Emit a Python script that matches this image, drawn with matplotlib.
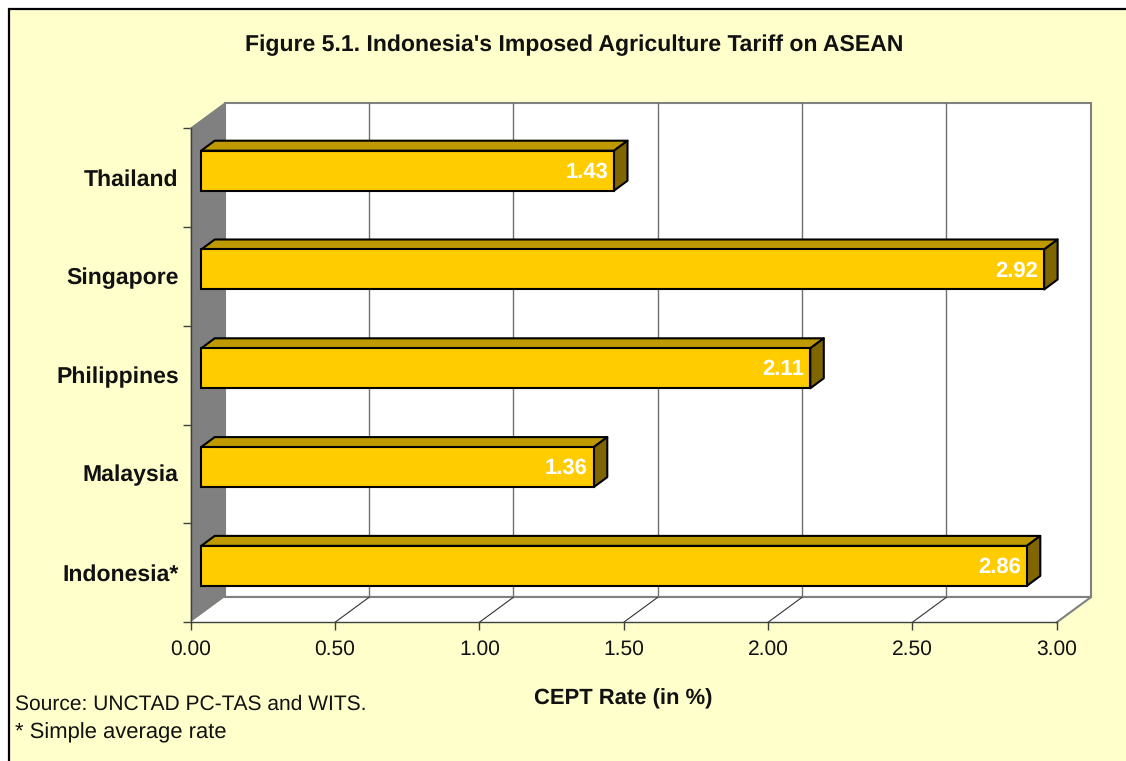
import matplotlib
matplotlib.use("Agg")
import matplotlib.pyplot as plt
from matplotlib.patches import Polygon, Rectangle

plt.rcParams['font.family'] = ['Liberation Sans', 'DejaVu Sans']
plt.rcParams['text.hinting'] = 'no_hinting'
plt.rcParams['text.hinting_factor'] = 1

# Data
countries = ['Indonesia*', 'Malaysia', 'Philippines', 'Singapore', 'Thailand']
rates = [2.86, 1.36, 2.11, 2.92, 1.43]
rate_labels = ['2.86', '1.36', '2.11', '2.92', '1.43']
x_ticks = [0.0, 0.5, 1.0, 1.5, 2.0, 2.5, 3.0]
x_tick_labels = ['0.00', '0.50', '1.00', '1.50', '2.00', '2.50', '3.00']

W, H = 1126, 761
fig = plt.figure(figsize=(W / 100, H / 100), dpi=100, facecolor='white')

# yellow outer panel, cut off by the right and bottom edge of the image
fig.add_artist(Rectangle((8.5 / W, -0.2), 1.2, 1.2 - 9 / H, transform=fig.transFigure,
                         facecolor='#FFFFCC', edgecolor='black', linewidth=1.6, zorder=-1))

# front plane of the 3D box, in pixels
left, right, top, bottom = 190.7, 1056.7, 128.3, 622.3
ax = fig.add_axes([left / W, 1 - bottom / H, (right - left) / W, (bottom - top) / H])
ax.set_xlim(0, 3)
ax.set_ylim(-0.5, 4.5)
ax.patch.set_visible(False)
for s in ax.spines.values():
    s.set_visible(False)

# pixel sizes turned into data units
px = 3 / (right - left)
py = 5 / (bottom - top)
depth_x, depth_y = 34 * px, 25 * py

# back wall
ax.add_patch(Rectangle((depth_x, -0.5 + depth_y), 3, 5, facecolor='white', edgecolor='#808080',
                       linewidth=1.5, clip_on=False, zorder=1))
# left wall
ax.add_patch(Polygon([(0, -0.5), (0, 4.5), (depth_x, 4.5 + depth_y), (depth_x, -0.5 + depth_y)],
                     facecolor='#808080', edgecolor='none', clip_on=False, zorder=2))
ax.plot([0, depth_x], [4.5, 4.5 + depth_y], color='#808080', lw=1, clip_on=False, zorder=2)
# floor
ax.add_patch(Polygon([(0, -0.5), (3, -0.5), (3 + depth_x, -0.5 + depth_y), (depth_x, -0.5 + depth_y)],
                     facecolor='white', edgecolor='none', clip_on=False, zorder=2))
ax.plot([3, 3 + depth_x], [-0.5, -0.5 + depth_y], color='#808080', lw=1.5, clip_on=False, zorder=3)
ax.plot([depth_x, 3 + depth_x], [-0.5 + depth_y, -0.5 + depth_y], color='#808080', lw=1.5,
        clip_on=False, zorder=3)

for t in x_ticks[1:-1]:
    ax.plot([t + depth_x, t + depth_x], [-0.5 + depth_y, 4.5 + depth_y], color='#707070', lw=1,
            clip_on=False, zorder=2.5)
    ax.plot([t, t + depth_x], [-0.5, -0.5 + depth_y], color='#333333', lw=0.8, clip_on=False, zorder=3)
ax.plot([0, 0], [-0.5, 4.5], color='#404040', lw=1, clip_on=False, zorder=3)
ax.plot([0, 3], [-0.5, -0.5], color='#404040', lw=1, clip_on=False, zorder=3)

# bars: front face sits part way into the box
shift_x, shift_y = 10.5 * px, 7 * py
bar_h = 40 * py
off_x, off_y = 13.5 * px, 10 * py
y_pos = list(range(len(countries)))

for y, rate, label in zip(y_pos, rates, rate_labels):
    x0, x1 = shift_x, rate + shift_x
    y0, y1 = y + shift_y - bar_h / 2, y + shift_y + bar_h / 2
    ax.add_patch(Polygon([(x0, y1), (x1, y1), (x1 + off_x, y1 + off_y), (x0 + off_x, y1 + off_y)],
                         facecolor='#BF9900', edgecolor='black', linewidth=1.5, joinstyle='round',
                         clip_on=False, zorder=4))
    ax.add_patch(Polygon([(x1, y0), (x1 + off_x, y0 + off_y), (x1 + off_x, y1 + off_y), (x1, y1)],
                         facecolor='#806600', edgecolor='black', linewidth=1.5, joinstyle='round',
                         clip_on=False, zorder=4))
    ax.add_patch(Rectangle((x0, y0), rate, bar_h, facecolor='#FFCC00', edgecolor='black',
                           linewidth=1.5, clip_on=False, zorder=5))
    ax.annotate(label, xy=(x1, y + shift_y), xytext=(-4.3, -1), textcoords='offset points', color='white',
                fontsize=16, fontweight='bold', ha='right', va='center', zorder=6)

ax.set_xticks(x_ticks)
ax.set_xticklabels(x_tick_labels, fontsize=15, color='#111111')
ax.tick_params(axis='x', length=5.8, width=1, color='#404040', pad=7)
ax.set_yticks([v - 0.5 for v in range(len(countries) + 1)])
ax.set_yticklabels([])
ax.tick_params(axis='y', length=5.8, width=1, color='#404040')

# category names go on their own, centred on each band
for y, name in zip(y_pos, countries):
    ax.annotate(name, xy=(0, y), xytext=(-8.6, -1.2), textcoords='offset points', ha='right', va='center',
                fontsize=16.8, fontweight='bold', color='#111111', annotation_clip=False)

fig.text(574 / W, 1 - 45 / H, "Figure 5.1. Indonesia's Imposed Agriculture Tariff on ASEAN",
         ha='center', va='center', fontsize=16.7, fontweight='bold', color='#111111')
fig.text(623 / W, 1 - 699 / H, 'CEPT Rate (in %)', ha='center', va='center', fontsize=15.8,
         fontweight='bold', color='#111111')
fig.text(15 / W, 1 - 704 / H, 'Source: UNCTAD PC-TAS and WITS.', ha='left', va='center',
         fontsize=15.1, color='#111111')
fig.text(15 / W, 1 - 733 / H, '* Simple average rate', ha='left', va='center', fontsize=15.5,
         color='#111111')

fig.savefig('out.png', dpi=100, facecolor=fig.get_facecolor())
